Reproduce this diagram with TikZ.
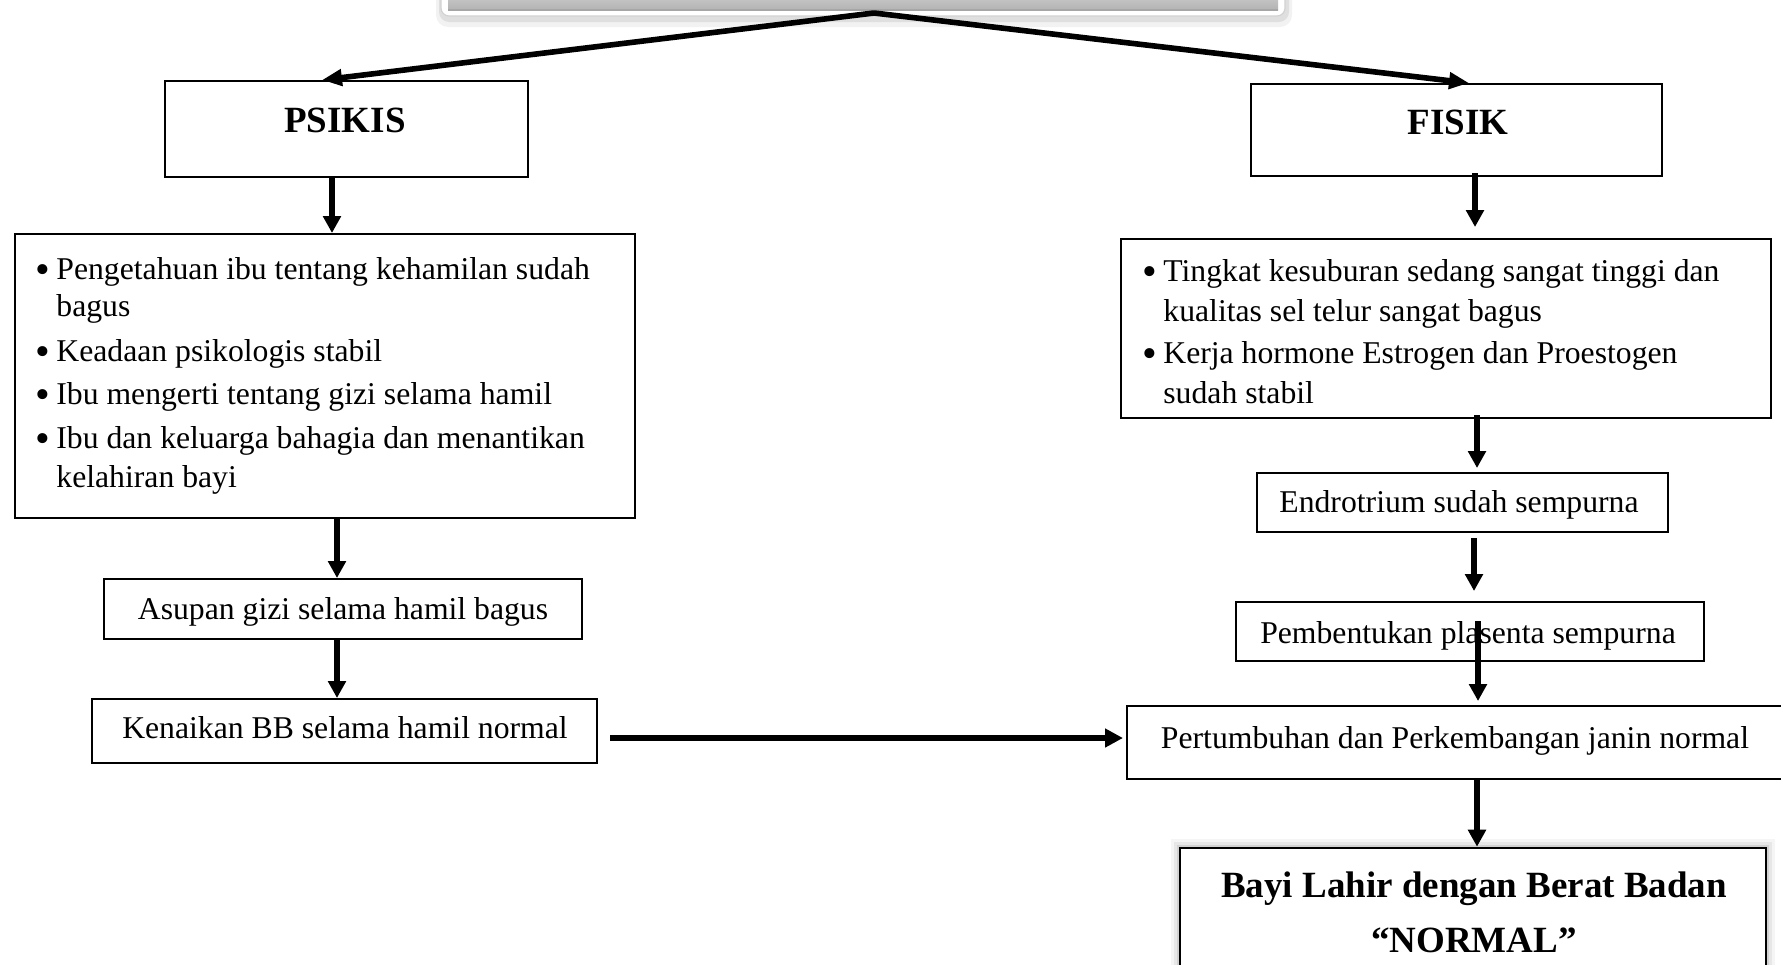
\documentclass[tikz,border=0pt]{standalone}
\usepackage{fontspec}
\setmainfont{Liberation Serif}
\usetikzlibrary{arrows.meta}
\begin{document}
\begin{tikzpicture}[x=0.5pt,y=-0.5pt,
  box/.style={draw=black, line width=1pt, fill=white, inner sep=0pt, rectangle},
  txt/.style={inner sep=0pt, anchor=base, font=\fontsize{15.85}{18.3}\selectfont},
  lne/.style={inner sep=0pt, anchor=base west, font=\fontsize{15.85}{18.3}\selectfont},
  ttl/.style={inner sep=0pt, anchor=base, font=\fontsize{18.5}{22}\selectfont\bfseries},
  arr/.style={line width=3pt, -{Triangle[length=8.5pt,width=8.7pt]}},
  harr/.style={line width=3.2pt, -{Triangle[length=9pt,width=9pt]}},
  tarr/.style={line width=2.8pt, -{Triangle[length=10pt,width=8pt]}}]
\useasboundingbox (0,0) rectangle (1781,964);
\newcommand{\bul}{\makebox[7pt][l]{\makebox[0pt][c]{\raisebox{-1.8pt}{\fontsize{21}{21}\selectfont\textbullet}}}}

% top (cut-off) box
\fill[black, opacity=0.05, rounded corners=6pt] (436,-30) rectangle (1292,27);
\fill[black, opacity=0.08, rounded corners=5pt] (439,-30) rectangle (1289,22);
\node[draw=gray!35, line width=0.6pt, fill=white, rounded corners=4pt, inner sep=0pt,
      minimum width=422pt, minimum height=23pt] (top) at (863,-7) {};
\shade[top color=gray!12, bottom color=gray!60] (448,-30) rectangle (1278,10);
\draw[gray!70, line width=0.6pt] (448,10) -- (1278,10);
\coordinate (apex) at (874,13);

% boxes
\node[box, minimum width=181.5pt, minimum height=48pt] (psikisbox) at (346.5,129) {};
\node[box, minimum width=310pt, minimum height=142pt] (lbox) at (325,376) {};
\node[box, minimum width=239pt, minimum height=30pt] (asupanbox) at (343,609) {};
\node[box, minimum width=252.5pt, minimum height=32pt] (kenaikanbox) at (344.5,731) {};
\node[box, minimum width=205.5pt, minimum height=46pt] (fisikbox) at (1456.5,130) {};
\node[box, minimum width=325pt, minimum height=89.5pt] (rbox) at (1446,328.5) {};
\node[box, minimum width=205.5pt, minimum height=29.5pt] (endrobox) at (1462.5,502.5) {};
\node[box, minimum width=234pt, minimum height=29.5pt] (pembbox) at (1470,631.5) {};
\node[box, minimum width=336.5pt, minimum height=36.5pt] (pertbox) at (1463.5,742.5) {};

% final box with soft shadow
\foreach \d/\o in {9/0.04,6/0.06,3/0.09}{
  \fill[black, opacity=\o] (1180-\d,848-\d) rectangle (1766+\d,1010);}
\node[box, line width=1.3pt, minimum width=293pt, minimum height=76pt] (finalbox) at (1473,924) {};

% texts
\node[ttl] (psikis) at (345,132) {PSIKIS};
\node[ttl] (fisik) at (1458,134) {FISIK};
\node[lne] (l1) at (42,279.5) {\bul Pengetahuan ibu tentang kehamilan sudah};
\node[lne] (l2) at (56,316.5) {bagus};
\node[lne] (l3) at (42,361.5) {\bul Keadaan psikologis stabil};
\node[lne] (l4) at (42,404.5) {\bul Ibu mengerti tentang gizi selama hamil};
\node[lne] (l5) at (42,448.5) {\bul Ibu dan keluarga bahagia dan menantikan};
\node[lne] (l6) at (56,487.5) {kelahiran bayi};
\node[lne] (r1) at (1149,281.5) {\bul Tingkat kesuburan sedang sangat tinggi dan};
\node[lne] (r2) at (1163,321.5) {kualitas sel telur sangat bagus};
\node[lne] (r3) at (1149,363.5) {\bul Kerja hormone Estrogen dan Proestogen};
\node[lne] (r4) at (1163,403.5) {sudah stabil};
\node[txt] (asupan) at (343,619.5) {Asupan gizi selama hamil bagus};
\node[txt] (kenaikan) at (345,738.5) {Kenaikan BB selama hamil normal};
\node[txt] (endro) at (1459,512.5) {Endrotrium sudah sempurna};
\node[txt] (pemb) at (1468,643.5) {Pembentukan plasenta sempurna};
\node[txt] (pert) at (1455,748.5) {Pertumbuhan dan Perkembangan janin normal};
\node[ttl] (final1) at (1474,897) {Bayi Lahir dengan Berat Badan};
\node[ttl] (final2) at (1474,952) {“NORMAL”};

% connectors
\draw[tarr] (apex) -- (psikisbox.north -| 322,0);
\draw[tarr] (apex) -- (fisikbox.north -| 1469,0);
\draw[arr] (psikisbox.south -| 332,0) -- (lbox.north -| 332,0);
\draw[arr] (lbox.south -| 337,0) -- (asupanbox.north -| 337,0);
\draw[arr] (asupanbox.south -| 337,0) -- (kenaikanbox.north -| 337,0);
\draw[harr, shorten <=6pt, shorten >=1.5pt] (kenaikanbox.east |- 0,738) -- (pertbox.west |- 0,738);
\draw[arr, shorten <=-2pt, shorten >=5.5pt] (fisikbox.south -| 1475,0) -- (rbox.north -| 1475,0);
\draw[arr, shorten <=-2pt, shorten >=2pt] (rbox.south -| 1477,0) -- (endrobox.north -| 1477,0);
\draw[arr, shorten <=2.5pt, shorten >=5pt] (endrobox.south -| 1474,0) -- (pembbox.north -| 1474,0);
\coordinate (pembin) at (1478,621);
\draw[arr, shorten >=2pt] (pembin) -- (pertbox.north -| 1478,0);
\draw[arr] (pertbox.south -| 1477,0) -- (finalbox.north -| 1477,0);
\end{tikzpicture}
\end{document}
